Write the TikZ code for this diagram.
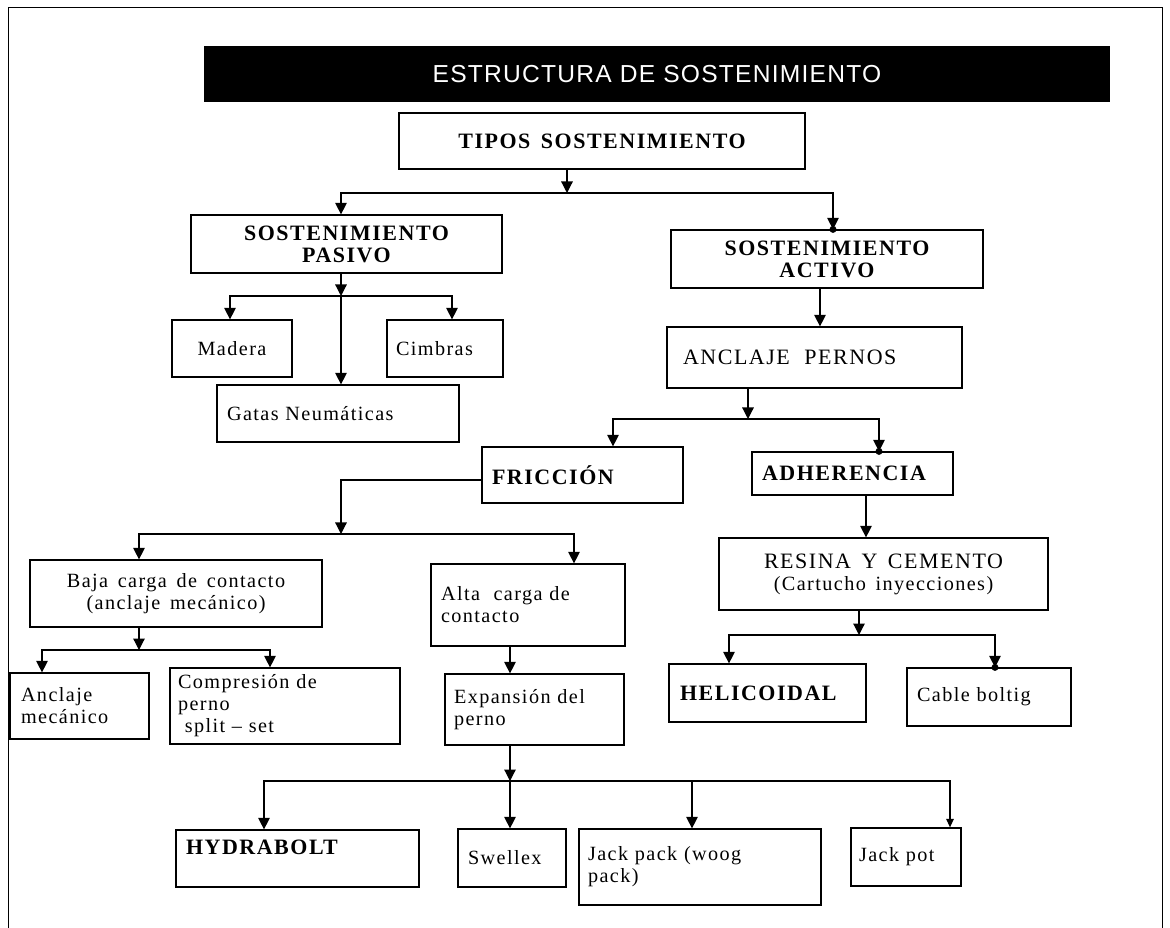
\documentclass[tikz,border=0pt]{standalone}
\usepackage{fontspec}
\setmainfont{Liberation Serif}[LetterSpace=7, WordSpace=1.5]
\newfontfamily\hdfont{Liberation Serif}[LetterSpace=7, WordSpace=1.5]
\newfontfamily\ttlfont{Liberation Sans}[LetterSpace=5]
\usetikzlibrary{arrows.meta}
\tikzset{
  box/.style 2 args={draw, minimum width=#1cm, minimum height=#2cm, inner sep=0pt,
    font=\fontsize{11.5}{12.5}\selectfont},
  lbox/.style n args={4}{box={#1}{#2}, text width=#3cm, inner xsep=#4cm, align=left},
  hd/.style={font=\hdfont\bfseries\fontsize{12.5}{12.5}\selectfont},
  arr/.style={-{Triangle[length=0.23cm,width=0.23cm]}},
  sarr/.style={-{Triangle[length=0.17cm,width=0.15cm]}}
}
\begin{document}
\begin{tikzpicture}[x=0.02cm, y=-0.02cm, line width=0.7pt]
\useasboundingbox (0,0) rectangle (1170,928);
\draw[line width=0.5pt] (8,928) -- (8,7) -- (1162,7) -- (1162,928);
\node[fill=black, text=white, minimum width=18.12cm, minimum height=1.12cm,
  font=\ttlfont\fontsize{14}{16}\selectfont] (titulo) at (657,74) {ESTRUCTURA DE SOSTENIMIENTO};
\node[box={8.12}{1.12}, hd] (tipos) at (602,141) {TIPOS SOSTENIMIENTO};
\node[box={6.22}{1.16}, hd, align=center] (pasivo) at (346.5,244) {SOSTENIMIENTO\\PASIVO};
\node[box={6.24}{1.16}, hd, align=center] (activo) at (827,259) {SOSTENIMIENTO\\ACTIVO};
\node[box={2.4}{1.14}] (madera) at (232,348.5) {Madera};
\node[lbox={2.32}{1.14}{1.96}{0.18}] (cimbras) at (445,348.5) {Cimbras};
\node[lbox={4.84}{1.14}{4.44}{0.2}] (gatas) at (338,413.5) {Gatas Neumáticas};
\node[lbox={5.9}{1.22}{5.26}{0.32}, font=\fontsize{12.5}{13}\selectfont] (pernos) at (814.5,357.5) {ANCLAJE\ \ PERNOS};
\node[lbox={4.02}{1.12}{3.62}{0.2}, hd] (friccion) at (582.5,475) {FRICCIÓN};
\node[lbox={4.02}{0.86}{3.62}{0.2}, hd] (adherencia) at (852.5,473.5) {ADHERENCIA};
\node[box={5.84}{1.34}, align=center] (baja) at (176,593.5) {Baja carga de contacto\\(anclaje mecánico)};
\node[lbox={3.88}{1.64}{3.48}{0.2}] (alta) at (528,605) {Alta\ \ carga de\\contacto};
\node[box={6.58}{1.44}, align=center] (resina) at (883.5,574)
  {{\fontsize{12.5}{12.5}\selectfont RESINA Y CEMENTO}\\(Cartucho inyecciones)};
\node[lbox={3.94}{1.16}{3.5}{0.22}, hd] (helicoidal) at (767.5,693) {HELICOIDAL};
\node[lbox={3.28}{1.16}{2.88}{0.2}] (cable) at (989,697) {Cable boltig};
\node[lbox={2.78}{1.32}{2.34}{0.22}] (mecanico) at (79.5,706) {Anclaje\\mecánico};
\node[lbox={4.6}{1.52}{4.28}{0.16}] (split) at (285,706) {Compresión de\\perno\\\ split – set};
\node[lbox={3.58}{1.42}{3.22}{0.18}] (expansion) at (534.5,709.5) {Expansión del\\perno};
\node[lbox={4.86}{1.14}{4.46}{0.2}, hd] (hydra) at (297.5,858.5) {HYDRABOLT\\~};
\node[lbox={2.16}{1.16}{1.76}{0.2}] (swellex) at (512,858) {Swellex};
\node[lbox={4.84}{1.52}{4.48}{0.18}] (jackpack) at (700,867) {Jack pack (woog\\pack)};
\node[lbox={2.2}{1.16}{1.88}{0.16}] (jackpot) at (906,857) {Jack pot};

\coordinate (t1) at (567,193);
\draw[arr] (tipos.south -| t1) -- (t1);
\draw[arr] (t1) -| (pasivo.north -| 341,0);
\draw[arr] (t1) -| (activo.north -| 833,0);
\fill (activo.north -| 833,0) circle (0.07cm);

\coordinate (p1) at (341,296);
\draw[arr] (pasivo.south -| p1) -- (p1);
\draw[arr] (p1) -| (madera.north -| 230,0);
\draw[arr] (p1) -| (cimbras.north -| 452,0);
\draw[arr] (p1) -- (gatas.north -| p1);

\draw[arr] (activo.south -| 820,0) -- (pernos.north -| 820,0);
\coordinate (a1) at (748,419);
\draw[arr] (pernos.south -| a1) -- (a1);
\draw[arr] (a1) -| (friccion.north -| 613,0);
\draw[arr] (a1) -| (adherencia.north -| 879,0);
\fill (adherencia.north -| 879,0) circle (0.07cm);

\coordinate (f1) at (341,534);
\draw[arr] (friccion.west |- 0,480) -| (f1);
\draw[arr] (f1) -| (baja.north -| 139,0);
\draw[arr] (f1) -| (alta.north -| 574,0);

\coordinate (k1) at (139,650);
\draw[arr] (baja.south -| k1) -- (k1);
\draw[arr] (k1) -| (mecanico.north -| 42,0);
\draw[arr] (k1) -| (split.north -| 270,0);

\draw[arr] (alta.south -| 510,0) -- (expansion.north -| 510,0);
\coordinate (e1) at (510,781);
\draw[arr] (expansion.south -| e1) -- (e1);
\draw[arr] (e1) -- (swellex.north -| e1);
\draw[arr] (e1) -| (hydra.north -| 264,0);
\draw[arr] (e1) -| (jackpack.north -| 692,0);
\draw[sarr] (e1) -| (jackpot.north -| 950,0);

\draw[arr] (adherencia.south -| 866,0) -- (resina.north -| 866,0);
\coordinate (r1) at (859,635);
\draw[arr] (resina.south -| r1) -- (r1);
\draw[arr] (r1) -| (helicoidal.north -| 729,0);
\draw[arr] (r1) -| (cable.north -| 995,0);
\fill (cable.north -| 995,0) circle (0.07cm);
\end{tikzpicture}
\end{document}
